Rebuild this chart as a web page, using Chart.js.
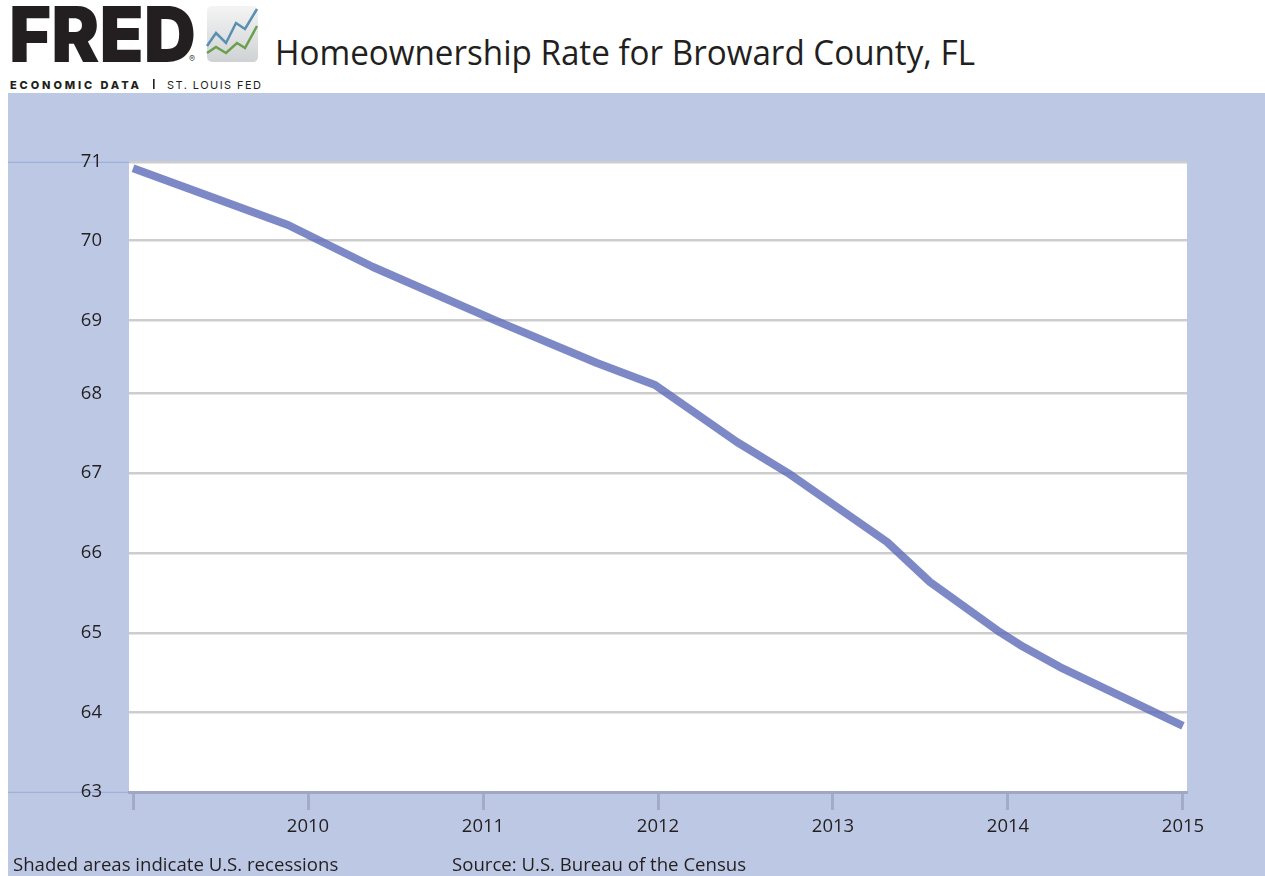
<!DOCTYPE html>
<html>
<head>
<meta charset="utf-8">
<title>Homeownership Rate for Broward County, FL</title>
<script src="https://cdn.jsdelivr.net/npm/chart.js@4/dist/chart.umd.min.js"></script>
<style>
  html,body{margin:0;padding:0;background:#fff;overflow:hidden}
  body{width:1265px;height:876px;position:relative;font-family:"Open Sans",sans-serif;color:#231f20}
  #myChart{position:absolute;left:8px;top:93px;background:#bdc9e4}
  #logo{position:absolute;left:0;top:0}
  #title{position:absolute;left:275px;top:28px;font-size:35px;line-height:48px;white-space:nowrap;transform:scaleX(0.948);transform-origin:left top}
  .note{position:absolute;top:852px;font-size:18.6px;line-height:24px;white-space:nowrap}
</style>
</head>
<body>
<svg id="logo" width="270" height="93" xmlns="http://www.w3.org/2000/svg">
  <defs>
    <linearGradient id="ic" x1="0" y1="0" x2="0" y2="1">
      <stop offset="0" stop-color="#f4f4f4"/>
      <stop offset="1" stop-color="#cfd2d4"/>
    </linearGradient>
  </defs>
  <text x="9" y="62" font-family="Inter" font-weight="900" font-size="77" fill="#231f20" textLength="187" lengthAdjust="spacingAndGlyphs">FRED</text>
  <text x="189" y="62" font-family="Inter" font-size="9" fill="#555">®</text>
  <rect x="207" y="6" width="51" height="56" rx="5" fill="url(#ic)"/>
  <polyline points="207,46 216,33 226,43 236,23 245,29 257,9" fill="none" stroke="#5b8fb0" stroke-width="2.5"/>
  <polyline points="207,53 216,47 226,53 237,43 245,48 257,26" fill="none" stroke="#6a9f4f" stroke-width="2.5"/>
  <text x="10" y="89" font-family="Inter" font-weight="800" font-size="11" fill="#231f20" textLength="129" lengthAdjust="spacing">ECONOMIC DATA</text>
  <rect x="153" y="79" width="1.6" height="10" fill="#231f20"/>
  <text x="167" y="89" font-family="Inter" font-size="11" fill="#231f20" textLength="94" lengthAdjust="spacing">ST. LOUIS FED</text>
</svg>
<div id="title">Homeownership Rate for Broward County, FL</div>
<canvas id="myChart" width="1257" height="783"></canvas>
<div class="note" style="left:13px">Shaded areas indicate U.S. recessions</div>
<div class="note" style="left:452px">Source: U.S. Bureau of the Census</div>
<script>
var years=[2009,2009.886,2010.371,2011.08,2011.651,2011.983,2012.451,2012.743,2013.309,2013.554,2013.954,2014.069,2014.297,2015];
var rates=[70.92,70.2,69.667,68.98,68.448,68.168,67.444,67.05,66.175,65.667,65.03,64.867,64.587,63.84];
var xTicks=[2009,2010,2011,2012,2013,2014,2015];
var xLabels=['','2010','2011','2012','2013','2014','2015'];
// gridlines in the picture aren't evenly spaced, so these are read off it too
var yTicks=[63,64.007,65.02,66.035,67.048,68.063,68.987,70.003,71];
var yLabels=['63','64','65','66','67','68','69','70','71'];

var plotBg={
  id:'plotBg',
  beforeDraw:function(chart){
    var a=chart.chartArea;
    chart.ctx.save();
    chart.ctx.fillStyle='#fff';
    chart.ctx.fillRect(a.left,a.top,a.right-a.left,a.bottom-a.top);
    chart.ctx.restore();
  }
};

var ctx=document.getElementById('myChart');
var myChart=new Chart(ctx,{
  type:'line',
  plugins:[plotBg],
  data:{
    datasets:[{
      data:years.map(function(y,i){return {x:y,y:rates[i]};}),
      borderColor:'rgba(92,108,184,0.8)',
      borderWidth:8,
      borderCapStyle:'butt',
      borderJoinStyle:'round',
      pointRadius:0,
      tension:0
    }]
  },
  options:{
    responsive:false,
    animation:false,
    layout:{padding:{top:69,right:78,left:0,bottom:0}},
    plugins:{legend:{display:false},tooltip:{enabled:false}},
    scales:{
      x:{
        type:'linear',
        min:2008.977,
        max:2015.023,
        afterBuildTicks:function(s){s.ticks=xTicks.map(function(v){return {value:v};});},
        afterFit:function(s){s.height=84;},
        border:{color:'#9ea7c3',width:3},
        grid:{drawOnChartArea:false,tickLength:18,tickWidth:3,tickColor:'#a3abc6'},
        ticks:{
          autoSkip:false,
          maxRotation:0,
          padding:6,
          color:'#231f20',
          font:{family:'"Open Sans"',size:18.5},
          callback:function(v){return xLabels[xTicks.indexOf(v)];}
        }
      },
      y:{
        min:63,
        max:71,
        afterBuildTicks:function(s){s.ticks=yTicks.map(function(v){return {value:v};});},
        afterFit:function(s){s.width=121;},
        border:{display:false},
        grid:{
          color:'#cdcdcd',
          lineWidth:2.5,
          tickLength:121,
          tickWidth:1,
          tickColor:function(c){
            var v=c.tick&&c.tick.value;
            return (v===63||v===71)?'#94a8d8':'rgba(0,0,0,0)';
          }
        },
        ticks:{
          autoSkip:false,
          padding:-94,
          labelOffset:0,
          color:'#231f20',
          font:{family:'"Open Sans"',size:18.5},
          callback:function(v){return yLabels[yTicks.indexOf(v)];}
        }
      }
    }
  }
});
</script>
</body>
</html>
